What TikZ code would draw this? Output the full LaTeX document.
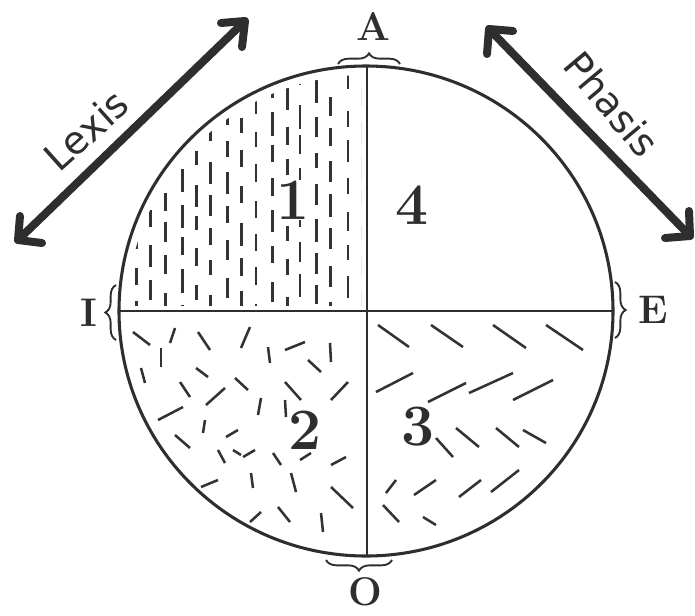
\documentclass[tikz,border=0pt]{standalone}
\usepackage{fontspec}
\usetikzlibrary{decorations.pathreplacing}
\newfontfamily\handfont{DejaVu Sans}
\begin{document}
\begin{tikzpicture}[x=0.75pt,y=-0.75pt,
  circ/.style={line width=2.3pt, draw=black!82},
  divider/.style={line width=1.5pt, draw=black!82},
  hatch/.style={line width=1.9pt, draw=black!80},
  brc/.style={decorate, decoration={brace, amplitude=8pt}, line width=1.4pt, draw=black!82},
  letter/.style={font=\bfseries\fontsize{30}{30}\selectfont, text=black!82, inner sep=0pt},
  digit/.style={font=\bfseries\fontsize{44}{44}\selectfont, text=black!82, fill=white, inner sep=0.5pt},
  bigarrow/.style={line width=6pt, draw=black!82, line cap=round, line join=round},
  handtext/.style={font=\handfont\fontsize{29}{29}\selectfont, text=black!82, inner sep=1pt}]
\useasboundingbox (0,0) rectangle (695,615);

% quadrant 1: vertical dashes
\begin{scope}
  \clip (366,311) ellipse [x radius=179pt, y radius=177pt];
  \clip (124,72) rectangle (361,305);
  \pgfmathsetseed{7}
  \foreach \i in {0,...,15} {
    \pgfmathsetmacro\xx{137+15*\i+2*rand}
    \pgfmathsetmacro\off{mod(\i*13,34)}
    \foreach \j in {0,...,8} {
      \pgfmathsetmacro\ya{62+\off+34*\j+3*rand}
      \pgfmathsetmacro\yb{\ya+14+10*rnd}
      \draw[hatch] (\xx,\ya) -- (\xx,\yb);
    }
  }
\end{scope}

% quadrant 2: scattered dashes
\foreach \a/\b/\c/\d in {
  133/332/150/345, 175/328/170/343, 198/332/210/350, 250/327/241/348,
  161/348/161/367, 268/347/270/363, 285/350/305/342, 330/343/331/362,
  308/360/321/372, 141/368/145/383, 196/368/208/377, 180/382/190/397,
  235/378/248/390, 285/382/301/400, 348/382/331/400, 225/388/206/405,
  261/398/258/415, 285/400/286/417, 183/407/158/420, 205/420/203/433,
  175/435/190/448, 226/437/238/430, 218/450/225/463, 233/450/241/455,
  243/457/255/450, 273/453/281/465, 300/460/311/453, 331/465/346/457,
  291/473/296/492, 251/473/253/488, 201/487/218/480, 331/487/353/508,
  250/522/261/512, 278/507/290/522, 321/513/323/532}
  {\draw[hatch] (\a,\b) -- (\c,\d);}

% quadrant 3: diagonal dashes
\foreach \a/\b/\c/\d in {
  378/325/409/347, 431/325/463/347, 493/325/526/348, 546/325/583/350,
  376/392/413/373, 428/402/466/383, 469/393/513/373, 513/400/553/380,
  436/438/453/457, 456/428/479/447, 496/428/519/447, 523/430/546/443,
  386/493/396/480, 414/495/436/480, 459/497/481/480, 491/492/519/470,
  383/505/399/522, 423/517/436/525}
  {\draw[hatch] (\a,\b) -- (\c,\d);}

% circle and dividers
\draw[circ] (366,311) ellipse [x radius=185.25pt, y radius=183.75pt];
\coordinate (top) at (367,67);
\coordinate (bot) at (367,556);
\coordinate (lft) at (119,311);
\coordinate (rgt) at (613,311);
\draw[divider] (top) -- (bot);
\draw[divider] (lft) -- (rgt);

% braces
\draw[brc] (338,64) -- (400,64);
\draw[brc] (392,560) -- (326,560);
\draw[brc] (116,340) -- (116,285);
\draw[brc] (615,282) -- (615,338);

% pole letters
\node[letter] (A) at (373,26) {A};
\node[letter] (I) at (89,313) {I};
\node[letter] (E) at (653,310) {E};
\node[letter] (O) at (365,592) {O};

% quadrant numbers
\node[digit] (n1) at (293,200) {1};
\node[digit] (n4) at (412,205) {4};
\node[digit] (n2) at (305,430) {2};
\node[digit] (n3) at (418,427) {3};

% Lexis arrow
\coordinate (L1) at (18,240);
\coordinate (L2) at (245,21);
\draw[bigarrow] (L1) -- (L2);
\draw[bigarrow] (221,23) -- (L2) -- (242,47);
\draw[bigarrow] (20,216) -- (L1) -- (42,243);
\node[handtext, rotate=42] (lexis) at (86,130) {Lexis};

% Phasis arrow
\coordinate (P1) at (489,29);
\coordinate (P2) at (690,236);
\draw[bigarrow] (P1) -- (P2);
\draw[bigarrow] (487,54) -- (P1) -- (513,31);
\draw[bigarrow] (665,238) -- (P2) -- (689,211);
\node[handtext, rotate=-50] (phasis) at (612,104) {Phasis};
\end{tikzpicture}
\end{document}
